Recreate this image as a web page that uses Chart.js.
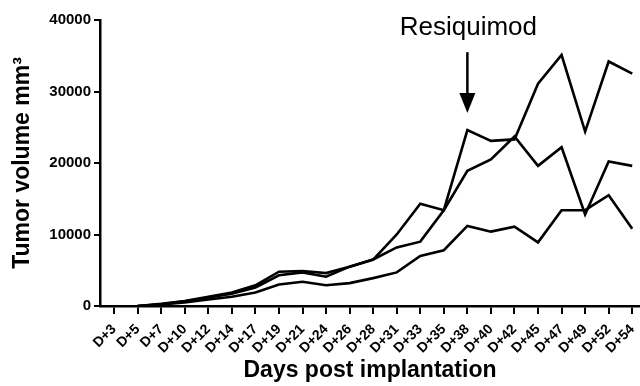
<!DOCTYPE html>
<html>
<head>
<meta charset="utf-8">
<script src="https://cdn.jsdelivr.net/npm/chart.js@4.4.1/dist/chart.umd.min.js"></script>
<style>
  html, body { margin: 0; padding: 0; background: #fff; overflow: hidden; }
</style>
</head>
<body>
<canvas id="chart" width="640" height="386"></canvas>
<script>
// measurement days
const days = ['D+3', 'D+5', 'D+7', 'D+10', 'D+12', 'D+14', 'D+17', 'D+19', 'D+21', 'D+24', 'D+26', 'D+28',
              'D+31', 'D+33', 'D+35', 'D+38', 'D+40', 'D+42', 'D+45', 'D+47', 'D+49', 'D+52', 'D+54'];

// tumor volume (mm3) per animal
const tumorA = [null, 0, 300, 700, 1300, 1900, 2900, 4800, 4900, 4600, 5500, 6500,
                10000, 14300, 13400, 24600, 23100, 23300, 31100, 35100, 24400, 34200, 32500];
const tumorB = [null, 0, 250, 650, 1200, 1700, 2600, 4300, 4700, 4100, 5500, 6500,
                8200, 9000, 13400, 18900, 20500, 23700, 19600, 22200, 12800, 20200, 19600];
const tumorC = [null, 0, 200, 500, 900, 1300, 1900, 3000, 3400, 2900, 3200, 3900,
                4700, 7000, 7800, 11200, 10400, 11100, 8900, 13400, 13400, 15500, 10800];

const yTicks = [0, 10000, 20000, 30000, 40000];

// treatment marker
const treatmentLabel = 'Resiquimod';
const treatmentDay = 'D+38';
const arrowFrom = 35500;
const arrowTo = 27000;
const labelAt = 37900;

const font = 'Arial, "Liberation Sans", Helvetica, sans-serif';
Chart.defaults.font.family = font;
Chart.defaults.color = '#000';

const toPoints = arr => arr.map((v, i) => ({ x: i, y: v }));

const lineStyle = {
    borderColor: '#000',
    borderWidth: 2.6,
    pointRadius: 0,
    tension: 0,
    fill: false,
};

const treatmentArrow = {
    id: 'treatmentArrow',
    afterDatasetsDraw(chart) {
        const { ctx, scales: { x, y } } = chart;
        const px = x.getPixelForValue(days.indexOf(treatmentDay));
        const top = y.getPixelForValue(arrowFrom);
        const tip = y.getPixelForValue(arrowTo);
        ctx.save();
        ctx.strokeStyle = '#000';
        ctx.fillStyle = '#000';
        ctx.lineWidth = 2.5;
        ctx.beginPath();
        ctx.moveTo(px, top);
        ctx.lineTo(px, tip - 18);
        ctx.stroke();
        ctx.beginPath();
        ctx.moveTo(px - 8, tip - 20);
        ctx.lineTo(px + 8, tip - 20);
        ctx.lineTo(px, tip);
        ctx.closePath();
        ctx.fill();
        ctx.font = '26px ' + font;
        ctx.textAlign = 'center';
        ctx.textBaseline = 'alphabetic';
        ctx.fillText(treatmentLabel, px + 1, y.getPixelForValue(labelAt));
        ctx.restore();
    }
};

const data = {
    datasets: [
        { label: 'A', data: toPoints(tumorA), ...lineStyle },
        { label: 'B', data: toPoints(tumorB), ...lineStyle },
        { label: 'C', data: toPoints(tumorC), ...lineStyle },
    ]
};

const options = {
    responsive: false,
    animation: false,
    layout: { padding: { top: 20, right: 0, bottom: 0, left: 0 } },
    plugins: { legend: { display: false }, tooltip: { enabled: false } },
    scales: {
        x: {
            type: 'linear',
            min: -0.6,
            max: 22.33,
            afterFit: s => { s.height = 80; s.paddingLeft = 0; s.paddingRight = 0; },
            border: { color: '#000', width: 2.5 },
            grid: { drawOnChartArea: false, color: '#000', lineWidth: 2, tickLength: 8 },
            ticks: {
                stepSize: 1,
                includeBounds: false,
                autoSkip: false,
                maxRotation: 45,
                minRotation: 45,
                padding: 7,
                font: { size: 14, weight: 'bold' },
                callback: v => days[v] ?? ''
            },
            title: {
                display: true,
                text: 'Days post implantation',
                font: { size: 23, weight: 'bold' },
                padding: { top: 0, bottom: 2 }
            }
        },
        y: {
            min: 0,
            max: 40000,
            afterFit: s => { s.width = 100; },
            afterBuildTicks: s => { s.ticks = yTicks.map(v => ({ value: v })); },
            border: { color: '#000', width: 2.5 },
            grid: { drawOnChartArea: false, color: '#000', lineWidth: 2, tickLength: 6 },
            ticks: {
                padding: 3,
                font: { size: 15, weight: 'bold' },
                callback: v => String(v)
            },
            title: {
                display: true,
                text: 'Tumor volume mm³',
                font: { size: 23, weight: 'bold' },
                padding: { top: 9, bottom: 4 }
            }
        }
    }
};

new Chart(document.getElementById('chart'), {
    type: 'line',
    data: data,
    options: options,
    plugins: [treatmentArrow]
});
</script>
</body>
</html>
